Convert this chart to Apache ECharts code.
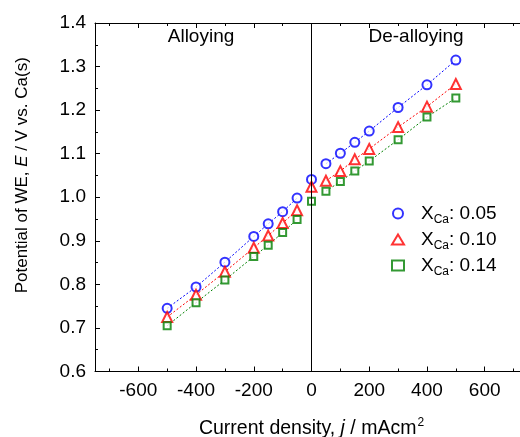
<!DOCTYPE html>
<html>
<head>
    <meta charset="utf-8">
    <title>Potential vs current density</title>
    <script src="https://cdn.jsdelivr.net/npm/echarts@6/dist/echarts.min.js"></script>
    <style>
        html, body { margin: 0; padding: 0; background: #fff; }
        #chart { width: 520px; height: 437px; }
    </style>
</head>
<body>
    <div id="chart"></div>
    <script>
        // current density points (mA cm^-2)
        const current = [-500, -400, -300, -200, -150, -100, -50, 0, 50, 100, 150, 200, 300, 400, 500];
        // potential of WE (V vs. Ca) for each Ca fraction
        const eCa005 = [0.745, 0.794, 0.851, 0.910, 0.939, 0.967, 0.998, 1.041, 1.077, 1.101, 1.126, 1.152, 1.206, 1.258, 1.315];
        const eCa010 = [0.725, 0.776, 0.829, 0.884, 0.912, 0.941, 0.970, 1.024, 1.038, 1.060, 1.087, 1.111, 1.161, 1.208, 1.260];
        const eCa014 = [0.705, 0.758, 0.810, 0.864, 0.890, 0.919, 0.949, 0.991, 1.014, 1.036, 1.060, 1.083, 1.132, 1.184, 1.228];
        const seriesNames = ['0.05', '0.10', '0.14'];
        const xMajorTicks = [-600, -400, -200, 0, 200, 400, 600];
        const xMinorTicks = [-700, -500, -300, -100, 100, 300, 500, 700];

        const font = 'Liberation Sans, Arial, sans-serif';
        const fs = 19;
        const nfs = 17;
        const colors = ['#0000ff', '#ff0000', '#008000'];
        const symbols = ['emptyCircle', 'emptyTriangle', 'emptyRect'];
        const sizes = [9, 10, 7];
        const values = [eCa005, eCa010, eCa014];

        const pairs = (ys, from, to) => current.slice(from, to).map((x, i) => [x, ys[from + i]]);

        const series = [];
        values.forEach((ys, k) => {
            // dotted guide lines, alloying and de-alloying branches
            [[0, 7], [8, 15]].forEach(([a, b]) => {
                series.push({
                    type: 'line',
                    data: pairs(ys, a, b),
                    symbol: 'none',
                    silent: true,
                    z: 1,
                    lineStyle: { color: colors[k], width: 1, type: [2, 2] }
                });
            });
            series.push({
                name: seriesNames[k],
                type: 'scatter',
                data: pairs(ys, 0, current.length),
                symbol: symbols[k],
                symbolSize: sizes[k],
                z: 3,
                itemStyle: { color: colors[k], borderColor: colors[k], borderWidth: 1.1 }
            });
        });
        // vertical line at j = 0
        series[2].markLine = {
            silent: true,
            symbol: 'none',
            label: { show: false },
            lineStyle: { color: '#000', width: 1, type: 'solid' },
            data: [{ xAxis: 0 }]
        };

        const xBase = {
            type: 'value', min: -750, max: 750,
            splitLine: { show: false }
        };

        const chart = echarts.init(document.getElementById('chart'));
        chart.setOption({
            animation: false,
            grid: { left: 95, right: -8, top: 23, bottom: 65.5, containLabel: false, outerBoundsMode: 'none' },
            legend: {
                data: seriesNames,
                orient: 'vertical',
                left: 386,
                top: 199,
                itemWidth: 12,
                itemHeight: 10,
                itemGap: 4,
                formatter: n => '{x|X}{s|Ca}{t|: ' + n + '}',
                textStyle: {
                    fontFamily: font, color: '#000', padding: [0, 0, 0, 12],
                    rich: {
                        x: { fontSize: fs, fontFamily: font, color: '#000', lineHeight: 21 },
                        s: { fontSize: 12, fontFamily: font, color: '#000', padding: [13, 0, 0, 0] },
                        t: { fontSize: fs, fontFamily: font, color: '#000', lineHeight: 21 }
                    }
                }
            },
            xAxis: [
                Object.assign({}, xBase, {
                    position: 'bottom',
                    name: '{n|Current density, }{i|j}{n| / mAcm}{p|2}',
                    nameLocation: 'middle',
                    nameGap: 45,
                    nameTextStyle: {
                        rich: {
                            n: { fontSize: 19.5, fontFamily: font, color: '#000' },
                            i: { fontSize: 19.5, fontFamily: font, color: '#000', fontStyle: 'italic' },
                            p: { fontSize: 12, fontFamily: font, color: '#000', padding: [0, 0, 12, 1] }
                        }
                    },
                    axisLine: { show: true, onZero: false, lineStyle: { color: '#000', width: 1 } },
                    axisTick: { show: true, inside: true, length: 5, customValues: xMajorTicks, lineStyle: { color: '#000' } },
                    axisLabel: { fontSize: fs, fontFamily: font, color: '#000', margin: 10, customValues: xMajorTicks }
                }),
                Object.assign({}, xBase, {
                    position: 'top',
                    axisLine: { show: true, onZero: false, lineStyle: { color: '#000', width: 1 } },
                    axisTick: { show: true, inside: true, length: 5, customValues: xMajorTicks, lineStyle: { color: '#000' } },
                    axisLabel: { show: false }
                }),
                Object.assign({}, xBase, {
                    position: 'bottom',
                    axisLine: { show: false, onZero: false },
                    axisTick: { show: true, inside: true, length: 3, customValues: xMinorTicks, lineStyle: { color: '#000' } },
                    axisLabel: { show: false }
                }),
                Object.assign({}, xBase, {
                    position: 'top',
                    axisLine: { show: false, onZero: false },
                    axisTick: { show: true, inside: true, length: 3, customValues: xMinorTicks, lineStyle: { color: '#000' } },
                    axisLabel: { show: false }
                })
            ],
            yAxis: {
                type: 'value', min: 0.6, max: 1.4, interval: 0.1,
                position: 'left',
                name: '{n|Potential of WE, }{i|E}{n| / V vs. Ca(s)}',
                nameLocation: 'middle',
                nameGap: 64,
                nameTextStyle: {
                    padding: [0, 0, 0, 44],
                    rich: {
                        n: { fontSize: nfs, fontFamily: font, color: '#000' },
                        i: { fontSize: nfs, fontFamily: font, color: '#000', fontStyle: 'italic' }
                    }
                },
                splitLine: { show: false },
                axisLine: { show: true, onZero: false, lineStyle: { color: '#000', width: 1 } },
                axisTick: { show: true, inside: true, length: 5, lineStyle: { color: '#000' } },
                minorTick: { show: true, splitNumber: 2, length: 3, lineStyle: { color: '#000' } },
                axisLabel: { fontSize: fs, fontFamily: font, color: '#000', margin: 9, formatter: v => v.toFixed(1) }
            },
            graphic: [
                { type: 'text', x: 201, y: 37, style: { text: 'Alloying', fontSize: fs, fontFamily: font, fill: '#000', align: 'center', verticalAlign: 'middle' } },
                { type: 'text', x: 416, y: 37, style: { text: 'De-alloying', fontSize: fs, fontFamily: font, fill: '#000', align: 'center', verticalAlign: 'middle' } }
            ],
            series: series
        });
    </script>
</body>
</html>
